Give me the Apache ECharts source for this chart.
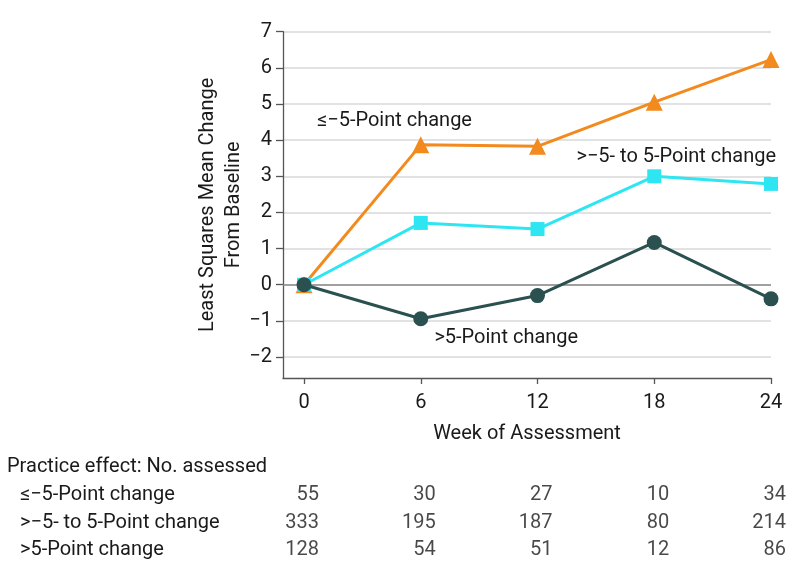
<!DOCTYPE html>
<html><head><meta charset="utf-8">
<script src="https://cdn.jsdelivr.net/npm/echarts@6/dist/echarts.min.js"></script>
<style>html,body{margin:0;padding:0;background:#fff}#c{width:794px;height:577px}</style>
</head><body><div id="c"></div>
<script>
// ---- data ----
const weeks = [0, 6, 12, 18, 24];
const seriesNames = ['≤−5-Point change', '>−5- to 5-Point change', '>5-Point change'];
const declineValues = [0, 3.87, 3.83, 5.05, 6.23];
const stableValues = [0, 1.71, 1.54, 3.00, 2.79];
const improveValues = [0, -0.94, -0.30, 1.17, -0.39];
const yTicks = [-2, -1, 0, 1, 2, 3, 4, 5, 6, 7];
const countsDecline = [55, 30, 27, 10, 34];
const countsStable = [333, 195, 187, 80, 214];
const countsImprove = [128, 54, 51, 12, 86];
const tableTitle = 'Practice effect: No. assessed';
const xTitle = 'Week of Assessment';
const yTitle = 'Least Squares Mean Change\nFrom Baseline';
// annotation anchors (data space)
const annDecline = [0.67, 4.54];
const annStable = [14.0, 3.53];
const annImprove = [6.7, -1.47];

const FONT = 'Roboto';
const FS = 20;
const TXT = '#1a1a1a';
const colors = ['#F28A1E', '#2EE6F2', '#2A5050'];
const symbols = ['triangle', 'rect', 'circle'];
const sizes = [17, 14, 15];
const valueSets = [declineValues, stableValues, improveValues];
const annSets = [annDecline, annStable, annImprove];
const countSets = [countsDecline, countsStable, countsImprove];

const chart = echarts.init(document.getElementById('c'));

const lineSeries = valueSets.map((vals, s) => ({
  type: 'line', name: seriesNames[s], xAxisIndex: 0, yAxisIndex: 0,
  data: weeks.map((w, i) => [w, vals[i]]),
  symbol: symbols[s], symbolSize: sizes[s], showSymbol: true,
  lineStyle: { width: 3, color: colors[s] },
  itemStyle: { color: colors[s] },
  z: 3 + s, animation: false,
  markPoint: {
    silent: true, animation: false,
    data: [{ coord: annSets[s], symbol: 'circle', symbolSize: 0,
      label: { show: true, formatter: seriesNames[s], position: 'inside', align: 'left',
        verticalAlign: 'middle', color: TXT, fontFamily: FONT, fontSize: FS } }]
  }
}));
lineSeries[0].markLine = {
  silent: true, symbol: 'none', animation: false, label: { show: false },
  lineStyle: { color: '#8a8a8a', width: 1.5, type: 'solid' },
  data: [{ yAxis: 0 }]
};

const tableSeries = countSets.map((cnts, r) => ({
  type: 'scatter', xAxisIndex: 1, yAxisIndex: 1, animation: false, silent: true,
  data: weeks.map((w, i) => [w, r, cnts[i]]),
  symbol: 'circle', symbolSize: 0, itemStyle: { color: 'transparent' },
  label: { show: true, position: 'inside', align: 'right', verticalAlign: 'middle', offset: [15, 0],
    formatter: p => String(p.value[2]), color: TXT, fontFamily: FONT, fontSize: FS }
}));

chart.setOption({
  animation: false,
  textStyle: { fontFamily: FONT },
  title: { text: tableTitle, left: 7, top: 457, padding: 0,
    textStyle: { fontFamily: FONT, fontSize: FS, fontWeight: 'normal', color: TXT } },
  grid: [
    { left: 283, right: 23, top: 31.7, bottom: 577 - 378 },
    { left: 283, right: 23, top: 481.5, height: 82.5 }
  ],
  xAxis: [
    { type: 'value', gridIndex: 0, min: -1.08, max: 24,
      axisLine: { show: true, onZero: false, lineStyle: { color: '#555', width: 1.3 } },
      axisTick: { show: true, customValues: weeks, length: 6, lineStyle: { color: '#555', width: 1.3 } },
      axisLabel: { customValues: weeks, margin: 15, color: TXT, fontFamily: FONT, fontSize: FS },
      splitLine: { show: false },
      name: xTitle, nameLocation: 'middle', nameGap: 46, nameMoveOverlap: false,
      nameTextStyle: { color: TXT, fontFamily: FONT, fontSize: FS } },
    { type: 'value', gridIndex: 1, min: -1.08, max: 24, show: false }
  ],
  yAxis: [
    { type: 'value', gridIndex: 0, min: -2.58, max: 7,
      axisLine: { show: true, onZero: false, lineStyle: { color: '#555', width: 1.3 } },
      axisTick: { show: true, customValues: yTicks, length: 7, lineStyle: { color: '#555', width: 1.3 } },
      axisLabel: { customValues: yTicks, margin: 11, color: TXT, fontFamily: FONT, fontSize: FS,
        formatter: v => (v < 0 ? '−' + Math.abs(v) : String(v)) },
      splitLine: { show: true, lineStyle: { color: '#d9d9d9', width: 1.5 } },
      name: yTitle, nameLocation: 'middle', nameGap: 36, nameRotate: 90, nameMoveOverlap: false,
      nameTextStyle: { color: TXT, fontFamily: FONT, fontSize: FS, lineHeight: 26 } },
    { type: 'category', gridIndex: 1, data: seriesNames, inverse: true,
      axisLine: { show: false }, axisTick: { show: false }, splitLine: { show: false },
      axisLabel: { margin: 263, align: 'left', color: TXT, fontFamily: FONT, fontSize: FS } }
  ],
  series: lineSeries.concat(tableSeries)
});
</script></body></html>
